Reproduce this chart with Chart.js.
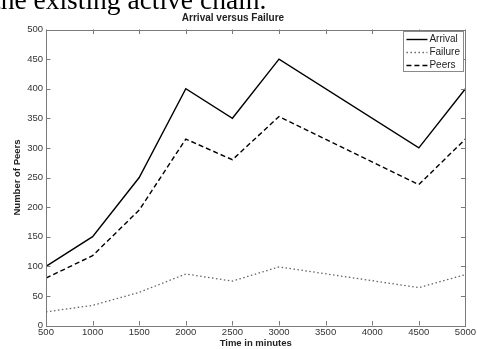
<!DOCTYPE html>
<html>
<head>
<meta charset="utf-8">
<script src="https://cdn.jsdelivr.net/npm/chart.js@4/dist/chart.umd.min.js"></script>
<style>
  html, body { margin:0; padding:0; background:#fff; overflow:hidden; }
  #wrap { position:relative; width:477px; height:349px; overflow:hidden; }
  #cut { position:absolute; left:-7px; top:-14px; font-family:'Liberation Serif','Times New Roman',serif; font-size:27.5px; line-height:27px; white-space:nowrap; color:#000; }
  canvas { position:absolute; left:0; top:0; }
</style>
</head>
<body>
<div id="wrap">
  <canvas id="c" width="477" height="349"></canvas>
  <div id="cut">the existing active chain.</div>
</div>
<script>
// ---- data ----
const times   = [500, 1000, 1500, 2000, 2500, 3000, 4500, 5000];
const arrival = [100, 150, 250, 400, 350, 450, 300, 400];
const failure = [23, 34, 56, 87, 75, 99, 64, 86];
const peers   = [80, 118, 195, 315, 280, 353, 238, 315];
const xTicks  = [500, 1000, 1500, 2000, 2500, 3000, 3500, 4000, 4500, 5000];
const yTicks  = [0, 50, 100, 150, 200, 250, 300, 350, 400, 450, 500];
const seriesNames = ['Arrival', 'Failure', 'Peers'];

const pts = vals => times.map((t, i) => ({ x: t, y: vals[i] }));
const FONT = "'Liberation Sans', Arial, Helvetica, sans-serif";

const framePlugin = {
  id: 'matlabFrame',
  afterDatasetsDraw(chart) {
    const { ctx, chartArea: a, scales } = chart;
    ctx.save();
    ctx.strokeStyle = '#7a7a7a';
    ctx.lineWidth = 1;
    ctx.strokeRect(Math.round(a.left) + 0.5, Math.round(a.top) + 0.5,
                   Math.round(a.right - a.left), Math.round(a.bottom - a.top));
    const tl = 4.5;
    ctx.beginPath();
    xTicks.forEach(v => {
      const px = Math.round(scales.x.getPixelForValue(v)) + 0.5;
      ctx.moveTo(px, a.bottom); ctx.lineTo(px, a.bottom - tl);
      ctx.moveTo(px, a.top); ctx.lineTo(px, a.top + tl);
    });
    yTicks.forEach(v => {
      const py = Math.round(scales.y.getPixelForValue(v)) + 0.5;
      ctx.moveTo(a.left, py); ctx.lineTo(a.left + tl, py);
      ctx.moveTo(a.right, py); ctx.lineTo(a.right - tl, py);
    });
    ctx.stroke();

    // legend box (MATLAB style, inside the axes, top right)
    const bx = a.right - 62, by = a.top + 1.5, bw = 60, bh = 40;
    ctx.fillStyle = '#fff';
    ctx.fillRect(bx, by, bw, bh);
    ctx.strokeStyle = '#8a8a8a';
    ctx.strokeRect(Math.round(bx) + 0.5, Math.round(by) + 0.5, bw, bh);
    ctx.font = '10px ' + FONT;
    ctx.textBaseline = 'middle';
    ctx.textAlign = 'left';
    chart.data.datasets.forEach((ds, i) => {
      const y = by + 8.5 + i * 13;
      ctx.save();
      ctx.strokeStyle = ds.borderColor;
      ctx.lineWidth = ds.borderWidth;
      ctx.setLineDash(ds.borderDash || []);
      ctx.beginPath();
      ctx.moveTo(bx + 3, y); ctx.lineTo(bx + 24, y);
      ctx.stroke();
      ctx.restore();
      ctx.fillStyle = '#222';
      ctx.fillText(ds.label, bx + 26, y);
    });
    ctx.restore();
  }
};

new Chart(document.getElementById('c'), {
  type: 'line',
  data: {
    datasets: [
      { label: seriesNames[0], data: pts(arrival), borderColor: '#000', borderWidth: 1.4, pointRadius: 0, tension: 0 },
      { label: seriesNames[1], data: pts(failure), borderColor: '#666', borderWidth: 1.3, borderDash: [1.5, 2.5], pointRadius: 0, tension: 0 },
      { label: seriesNames[2], data: pts(peers), borderColor: '#000', borderWidth: 1.4, borderDash: [5, 3], pointRadius: 0, tension: 0 }
    ]
  },
  options: {
    responsive: false,
    animation: false,
    layout: { padding: { left: 0, right: 11, top: 0, bottom: 0 } },
    plugins: {
      legend: { display: false },
      tooltip: { enabled: false },
      title: {
        display: true,
        text: 'Arrival versus Failure',
        color: '#222',
        font: { family: FONT, size: 10, weight: 'bold' },
        padding: { top: 12, bottom: 5.5 }
      }
    },
    scales: {
      x: {
        type: 'linear', min: 500, max: 5000,
        afterBuildTicks: s => { s.ticks = xTicks.map(v => ({ value: v })); },
        afterFit: s => { s.height = 23.5; },
        grid: { display: false, drawTicks: false },
        border: { display: false },
        ticks: { color: '#333', font: { family: FONT, size: 9.5 }, padding: 1, maxRotation: 0, autoSkip: false, callback: v => String(v) },
        title: { display: true, text: 'Time in minutes', color: '#222', font: { family: FONT, size: 9.5, weight: 'bold' }, padding: { top: 0, bottom: 0 } }
      },
      y: {
        min: 0, max: 500,
        afterBuildTicks: s => { s.ticks = yTicks.map(v => ({ value: v })); },
        afterFit: s => { s.width = 46; },
        grid: { display: false, drawTicks: false },
        border: { display: false },
        ticks: { color: '#333', font: { family: FONT, size: 9.5 }, padding: 3, autoSkip: false, callback: v => String(v) },
        title: { display: true, text: 'Number of Peers', color: '#222', font: { family: FONT, size: 9.5, weight: 'bold' }, padding: { top: 12, bottom: 0 } }
      }
    }
  },
  plugins: [framePlugin]
});
</script>
</body>
</html>
